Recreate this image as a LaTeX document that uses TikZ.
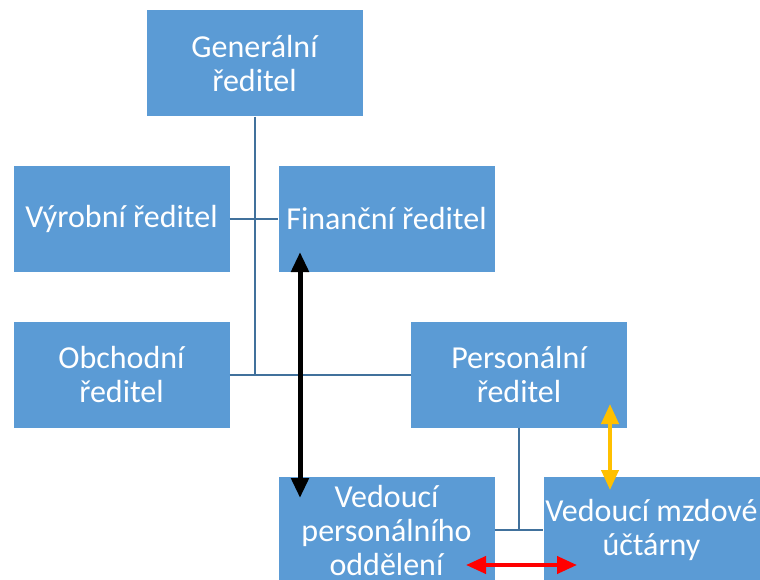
\documentclass[tikz,border=0pt]{standalone}
\usepackage{fontspec}
\setmainfont{Carlito}
\usetikzlibrary{arrows.meta}
\definecolor{boxblue}{HTML}{5B9BD5}
\definecolor{linkblue}{HTML}{41719C}
\definecolor{amber}{HTML}{FFC000}
\begin{document}
\begin{tikzpicture}[x=1pt,y=-1pt,
  orgbox/.style={fill=boxblue, draw=none, minimum width=216pt, minimum height=106pt,
    text=white, align=center, font=\fontsize{32}{34}\selectfont, inner sep=1pt},
  link/.style={draw=linkblue, line width=2pt},
  relation/.style={line width=#1, {Triangle[length=20pt,width=17pt]}-{Triangle[length=20pt,width=17pt]}}]
\useasboundingbox (0,0) rectangle (760,580);

% boxes
\node[orgbox] (gen) at (254.5,63.5) {Generální\\ředitel};
\node[orgbox] (vyr) at (121.5,219) {Výrobní ředitel};
\node[orgbox] (fin) at (386.5,219) {Finanční ředitel};
\node[orgbox] (obch) at (121.5,374.5) {Obchodní\\ředitel};
\node[orgbox] (pers) at (519,374.5) {Personální\\ředitel};
\node[orgbox] (vpo) at (386.5,530) {Vedoucí\\personálního\\oddělení};
\node[orgbox] (vmu) at (651.5,530) {Vedoucí mzdové\\účtárny};

% hierarchy lines
\coordinate (j1) at (gen.south |- obch.east);
\draw[link] (gen.south) -- (j1);
\draw[link] (vyr.east) -- (fin.west);
\draw[link] (obch.east) -- (pers.west);
\coordinate (j2) at (pers.south |- vpo.east);
\draw[link] (pers.south) -- (j2);
\draw[link] (vpo.east) -- (vmu.west);

% relation arrows
\coordinate (b1) at (300,252);
\coordinate (b2) at (300,498);
\draw[relation=5pt, black] (b1) -- (b2);
\coordinate (o1) at (610,404);
\coordinate (o2) at (610,490);
\draw[relation=4pt, amber] (o1) -- (o2);
\coordinate (r1) at (466,565);
\coordinate (r2) at (577,565);
\draw[relation=4pt, red] (r1) -- (r2);
\end{tikzpicture}
\end{document}
